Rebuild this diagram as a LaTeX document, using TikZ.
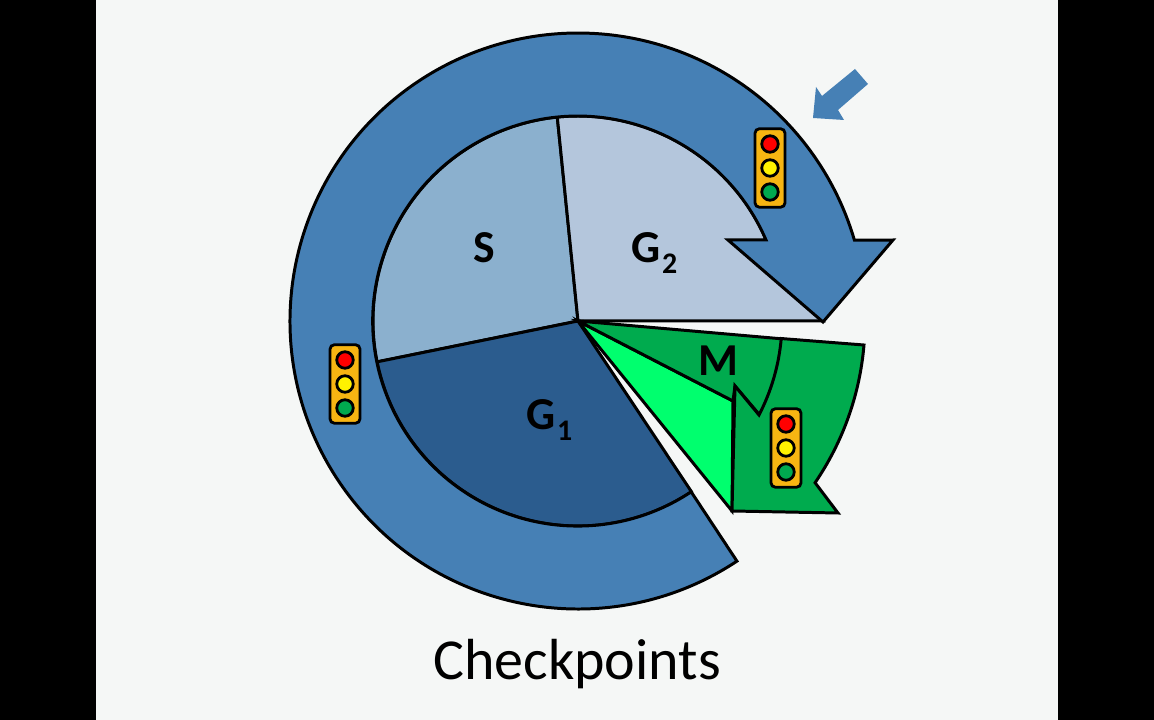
\documentclass[tikz,border=0pt]{standalone}
\usepackage{fontspec}
\setmainfont{Carlito}
\usetikzlibrary{calc}
\definecolor{pagebg}{HTML}{F5F7F6}
\definecolor{cycleblue}{HTML}{4680B5}
\definecolor{phaseS}{HTML}{8BB0CE}
\definecolor{phaseGone}{HTML}{2B5C8E}
\definecolor{phaseGtwo}{HTML}{B4C6DC}
\definecolor{mdark}{HTML}{00AB4E}
\definecolor{mlight}{HTML}{00FF6E}
\definecolor{lampbox}{HTML}{F7B512}
\definecolor{lampgreen}{HTML}{00A94F}
\newcommand{\phasesub}[1]{\kern1pt\raisebox{-5.8pt}{\fontsize{17}{17}\selectfont #1}}

\begin{document}
\begin{tikzpicture}[
        x=0.02cm, y=0.02cm,
        shape line/.style={draw=black, line width=1.7pt, line join=miter},
        phase label/.style={font=\bfseries\fontsize{26}{28}\selectfont, inner sep=0pt},
        lamp box/.style={draw=black, line width=1.6pt, fill=lampbox, rounded corners=2.5pt, minimum width=0.6cm, minimum height=1.57cm, inner sep=0pt},
        lamp/.style={draw=black, line width=1.6pt, circle, minimum size=0.33cm, inner sep=0pt}
    ]
    \useasboundingbox (0,0) rectangle (1154,720);
    \fill[black] (0,0) rectangle (1154,720);
    \fill[pagebg] (96,0) rectangle (1058,720);

    \coordinate (C) at (578,399);

    % inner phases
    \filldraw[shape line, fill=phaseS] (C) -- ++(95.8:205) arc[start angle=95.8, end angle=191.5, radius=205] -- cycle;
    \filldraw[shape line, fill=phaseGone] (C) -- ++(191.5:205) arc[start angle=191.5, end angle=303.6, radius=205] -- cycle;
    \filldraw[shape line, fill=phaseGtwo] (C) -- ++(95.8:205) arc[start angle=95.8, end angle=23.3, radius=205] -- (823,399) -- cycle;

    % outer arrow
    \filldraw[shape line, fill=cycleblue] (C) ++(-56.5:288) arc[start angle=-56.5, end angle=-343.7, radius=288]
        -- (893,480) -- (823,398) -- (728,480) -- (766,480)
        arc[start angle=23.3, end angle=303.6, radius=205] -- cycle;

    % mitosis
    \filldraw[shape line, fill=mlight] (C) -- (733,319) -- (732,209) -- cycle;
    \filldraw[shape line, fill=mdark] (C) -- ++(-5:205) arc[start angle=-5, end angle=-27.4, radius=205] -- (735,334) -- (733,319) -- cycle;
    \filldraw[shape line, fill=mdark] (C) ++(-4.8:287) arc[start angle=-4.8, end angle=-34.3, radius=287]
        -- (838,207) -- (732,209) -- (735,334) -- (759,305)
        arc[start angle=-27.4, end angle=-5, radius=205] -- cycle;

    % small arrow
    \fill[cycleblue] (813,602) -- (816,633) -- (822,624) -- (855,651) -- (868,636) -- (838,610) -- (844,600) -- cycle;

    % traffic lights
    \foreach \name/\px/\py in {top/770/552, left/345/336, mid/786/272} {
        \node[lamp box] (box\name) at (\px,\py) {};
        \node[lamp, fill=red] (red\name) at (\px,\py+24) {};
        \node[lamp, fill=yellow] (yellow\name) at (\px,\py) {};
        \node[lamp, fill=lampgreen] (green\name) at (\px,\py-24) {};
    }

    \node[phase label] (S) at (484,472) {S};
    \node[phase label, anchor=base west] (Gtwo) at (631,457) {G\phasesub{2}};
    \node[phase label, anchor=base west] (Gone) at (526,290) {G\phasesub{1}};
    \node[phase label] (M) at (718,359) {M};
    \node[font=\fontsize{33}{36}\selectfont, inner sep=0pt] (title) at (577,55.5) {Checkpoints};
\end{tikzpicture}
\end{document}
